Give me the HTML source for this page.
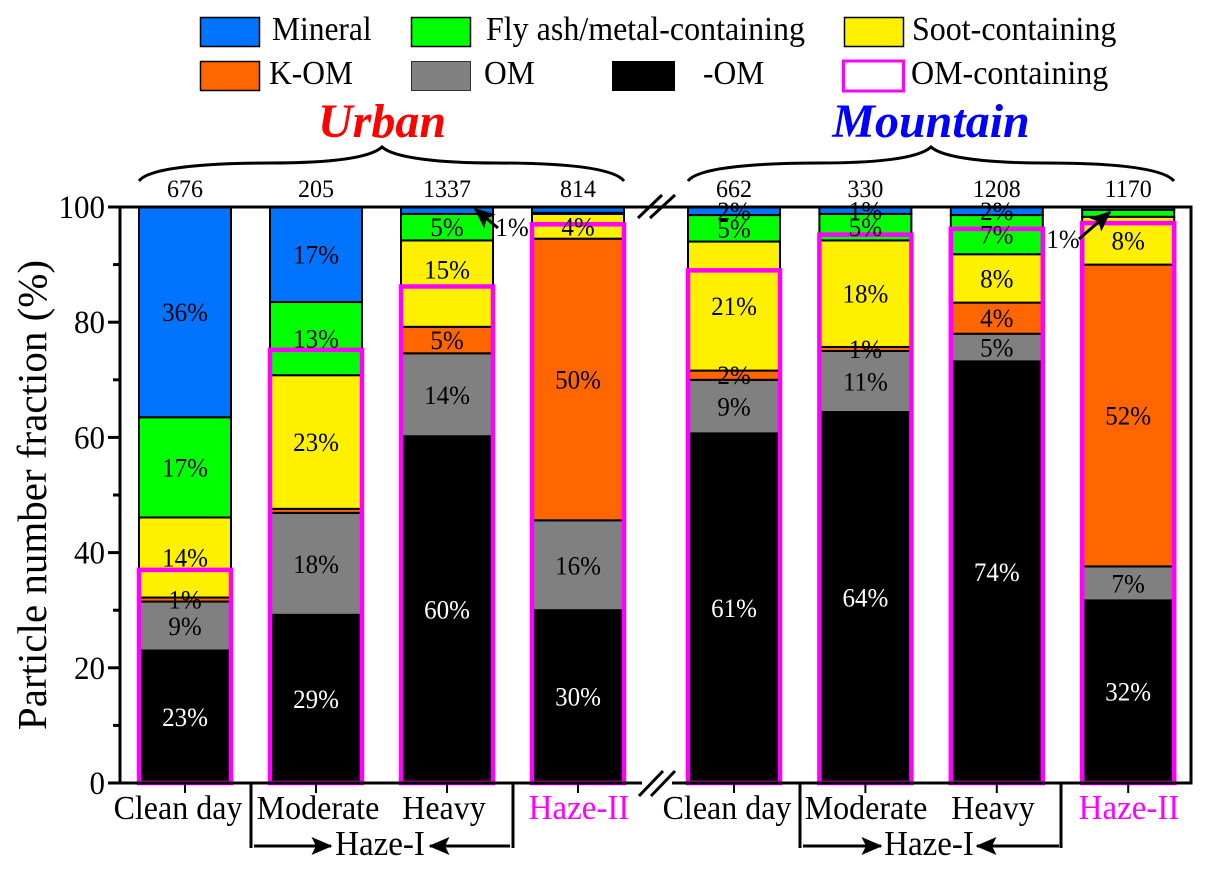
<!DOCTYPE html>
<html lang="en">
<head>
<meta charset="utf-8">
<title>Particle number fraction by site and pollution level</title>
<style>
html,body{margin:0;padding:0;background:#fff;width:1213px;height:874px;overflow:hidden}
svg{display:block}
text{font-family:"Liberation Serif",serif;fill:#000}
</style>
</head>
<body>
<svg id="chart" width="1213" height="874" viewBox="0 0 1213 874" xmlns="http://www.w3.org/2000/svg">
  <defs>
    <marker id="ah" markerWidth="8" markerHeight="8" refX="6.5" refY="3" orient="auto" markerUnits="strokeWidth"><path d="M0 0L7 3L0 6L1.5 3Z" fill="#000"/></marker>
  </defs>
  <g id="legend">
    <g><rect x="200.5" y="17.5" width="59" height="29" fill="#0073ff" stroke="#000" stroke-width="1.5"/><text x="272" y="40" font-size="31.5">Mineral</text></g>
    <g><rect x="411.5" y="17.5" width="59" height="29" fill="#00ff00" stroke="#000" stroke-width="1.5"/><text x="486" y="40" font-size="32">Fly ash/metal-containing</text></g>
    <g><rect x="844.5" y="17.5" width="59" height="29" fill="#fff000" stroke="#000" stroke-width="1.5"/><text x="912" y="40" font-size="32">Soot-containing</text></g>
    <g><rect x="200.5" y="61.5" width="59" height="29" fill="#ff6600" stroke="#000" stroke-width="1.5"/><text x="269" y="84" font-size="31.5">K-OM</text></g>
    <g><rect x="411.5" y="61.5" width="59" height="29" fill="#808080" stroke="#333" stroke-width="1"/><text x="484" y="84" font-size="31.5">OM</text></g>
    <g><rect x="612" y="61" width="63" height="30" fill="#000"/><text x="703" y="84" font-size="31.5">-OM</text></g>
    <g><rect x="843.5" y="61" width="60" height="30" fill="#fff" stroke="#ff00ff" stroke-width="3"/><text x="911" y="84" font-size="32">OM-containing</text></g>
  </g>

  <text x="382" y="137" font-size="48" font-weight="bold" font-style="italic" text-anchor="middle" style="fill:#ff0000">Urban</text>
  <text x="931" y="137" font-size="48" font-weight="bold" font-style="italic" text-anchor="middle" style="fill:#0000ff">Mountain</text>
  <path d="M139 181C150 166 220 163 270 163C330 163 370 158 382 147C394 158 440 163 495 163C550 163 612 166 624 181" fill="none" stroke="#000" stroke-width="3"/>
  <path d="M688 181C699 166 769 163 819 163C879 163 919 158 931 147C943 158 989 163 1044 163C1099 163 1161 166 1174 181" fill="none" stroke="#000" stroke-width="3"/>

  <g id="bars"></g>
  <g id="axes"></g>

  <text transform="translate(46,495) rotate(-90)" font-size="41" text-anchor="middle">Particle number fraction (%)</text>

  <g stroke="#000" stroke-width="3">
    <line x1="638" y1="218" x2="662" y2="195"/><line x1="650" y1="218" x2="675" y2="195"/>
  </g>
  <g>
    <rect x="642" y="780" width="30" height="6" fill="#fff"/>
    <line x1="639" y1="796" x2="663" y2="771" stroke="#000" stroke-width="3"/><line x1="651" y1="796" x2="675" y2="771" stroke="#000" stroke-width="3"/>
  </g>

  <g font-size="32">
    <text x="178" y="819" font-size="32" text-anchor="middle">Clean day</text>
    <text x="318" y="819" font-size="32" text-anchor="middle">Moderate</text>
    <text x="444" y="819" font-size="32" text-anchor="middle">Heavy</text>
    <text x="579" y="819" font-size="33" text-anchor="middle" style="fill:#ff00ff">Haze-II</text>
    <text x="727" y="819" font-size="32" text-anchor="middle">Clean day</text>
    <text x="866" y="819" font-size="32" text-anchor="middle">Moderate</text>
    <text x="993" y="819" font-size="32" text-anchor="middle">Heavy</text>
    <text x="1129" y="819" font-size="33" text-anchor="middle" style="fill:#ff00ff">Haze-II</text>
  </g>

  <g stroke="#000" stroke-width="3" fill="none">
    <line x1="251" y1="783" x2="251" y2="848"/><line x1="513" y1="783" x2="513" y2="848"/>
    <line x1="254" y1="846" x2="331" y2="846" marker-end="url(#ah)"/><line x1="510" y1="846" x2="430" y2="846" marker-end="url(#ah)"/>
  </g>
  <text x="380" y="855" font-size="33" text-anchor="middle">Haze-I</text>
  <g stroke="#000" stroke-width="3" fill="none">
    <line x1="800" y1="783" x2="800" y2="848"/><line x1="1061" y1="783" x2="1061" y2="848"/>
    <line x1="803" y1="846" x2="881" y2="846" marker-end="url(#ah)"/><line x1="1059" y1="846" x2="977" y2="846" marker-end="url(#ah)"/>
  </g>
  <text x="929" y="855" font-size="33" text-anchor="middle">Haze-I</text>

  <g>
    <text x="512" y="236" font-size="25" text-anchor="middle">1%</text>
    <line x1="498" y1="228" x2="475" y2="209" stroke="#000" stroke-width="3" marker-end="url(#ah)"/>
  </g>
  <g>
    <text x="1063" y="248" font-size="25" text-anchor="middle">1%</text>
    <line x1="1079" y1="239" x2="1110" y2="212" stroke="#000" stroke-width="3" marker-end="url(#ah)"/>
  </g>
</svg>
<script>
var categories = ["urban-clean-day","urban-moderate","urban-heavy","urban-haze-ii","mountain-clean-day","mountain-moderate","mountain-heavy","mountain-haze-ii"];
var counts = ["676","205","1337","814","662","330","1208","1170"];
var darkOm = [23, 29.2, 60.2, 30, 60.7, 64.4, 73.2, 31.7];
var om = [8.5, 17.7, 14.4, 15.6, 9.3, 10.6, 4.8, 5.9];
var kOm = [0.7, 0.7, 4.6, 48.9, 1.6, 0.7, 5.4, 52.4];
var soot = [13.9, 23.2, 15, 4.3, 22.4, 18.5, 8.4, 8.3];
var flyAsh = [17.4, 12.7, 4.6, 0.2, 4.6, 4.6, 6.8, 1.2];
var mineral = [36.5, 16.5, 1.2, 1.0, 1.4, 1.2, 1.4, 0.5];
var omContaining = [37, 75.2, 86.2, 97, 89, 95.2, 96.2, 97.2];
var darkOmLabels = ["23%","29%","60%","30%","61%","64%","74%","32%"];
var omLabels = ["9%","18%","14%","16%","9%","11%","5%","7%"];
var kOmLabels = ["1%","","5%","50%","2%","1%","4%","52%"];
var sootLabels = ["14%","23%","15%","4%","21%","18%","8%","8%"];
var flyAshLabels = ["17%","13%","5%","","5%","5%","7%",""];
var mineralLabels = ["36%","17%","","","2%","1%","2%",""];
var yTicks = [0,10,20,30,40,50,60,70,80,90,100];

var NS = "http://www.w3.org/2000/svg";
function yScale(v){ return 783 - v * 5.76; }
function xCenter(i){ return i < 4 ? 185 + 131 * i : 734 + 131.4 * (i - 4); }
var BAR_W = 92;
function mk(tag, attrs, parent){
  var e = document.createElementNS(NS, tag);
  for (var k in attrs) e.setAttribute(k, attrs[k]);
  parent.appendChild(e);
  return e;
}
var bars = document.getElementById("bars");
var axes = document.getElementById("axes");
var seriesList = [
  {name:"dark-om", values:darkOm, labels:darkOmLabels, color:"#000000", text:"#ffffff"},
  {name:"om", values:om, labels:omLabels, color:"#808080", text:"#000000"},
  {name:"k-om", values:kOm, labels:kOmLabels, color:"#ff6600", text:"#000000"},
  {name:"soot", values:soot, labels:sootLabels, color:"#fff000", text:"#000000"},
  {name:"fly-ash", values:flyAsh, labels:flyAshLabels, color:"#00ff00", text:"#000000"},
  {name:"mineral", values:mineral, labels:mineralLabels, color:"#0073ff", text:"#000000"}
];
var labelLayer = [];
categories.forEach(function(cat, i){
  var base = 0, cx = xCenter(i);
  seriesList.forEach(function(s){
    var v = s.values[i], top = base + v;
    var r = mk("rect", {x: cx - BAR_W / 2, y: yScale(top), width: BAR_W, height: yScale(base) - yScale(top), fill: s.color, stroke: "#000", "stroke-width": 2}, bars);
    
    
    if (s.labels[i]) {
      var ly = yScale(base + v / 2) + 9;
      if (cat === "urban-heavy" && s.name === "soot") ly -= 14;
      labelLayer.push({t: s.labels[i], x: cx, y: ly, c: s.text, n: cat + '-' + s.name});
    }
    base = top;
  });
});
categories.forEach(function(cat, i){
  var cx = xCenter(i);
  var b = mk("rect", {x: cx - BAR_W / 2, y: yScale(omContaining[i]), width: BAR_W, height: yScale(0) - yScale(omContaining[i]), fill: "none", stroke: "#ff00ff", "stroke-width": 4.5}, bars);
  
  
  var c = mk("text", {x: cx, y: 197, "font-size": 24, "text-anchor": "middle"}, bars);
  c.textContent = counts[i];
  
  
  var t = mk("line", {x1: cx, x2: cx, y1: 783, y2: 793, stroke: "#000", "stroke-width": 2}, axes);
  
  
});
labelLayer.forEach(function(l){
  var e = mk("text", {x: l.x, y: l.y, "font-size": 25, "text-anchor": "middle"}, bars);
  e.style.fill = l.c;
  e.textContent = l.t;
  
  
});
var frame = mk("path", {d: "M120 207H1191V783H120Z", fill: "none", stroke: "#000", "stroke-width": 3}, axes);


yTicks.forEach(function(v){
  var major = v % 20 === 0;
  var t = mk("line", {x1: major ? 108 : 113, x2: 120, y1: yScale(v), y2: yScale(v), stroke: "#000", "stroke-width": 3}, axes);
  
  
  if (major) {
    var l = mk("text", {x: 105, y: yScale(v) + 11, "font-size": 31, "text-anchor": "end"}, axes);
    l.textContent = String(v);
    
    
  }
});
/* The reference type is slightly tall: stretch glyphs vertically about their baselines. */
var STRETCH = 1.06;
Array.prototype.forEach.call(document.querySelectorAll("#chart text"), function(t){
  if (t.hasAttribute("transform") || t.getAttribute("font-weight") === "bold") return;
  var y = parseFloat(t.getAttribute("y"));
  t.setAttribute("transform", "matrix(1 0 0 " + STRETCH + " 0 " + (y * (1 - STRETCH)) + ")");
});
</script>
</body>
</html>
